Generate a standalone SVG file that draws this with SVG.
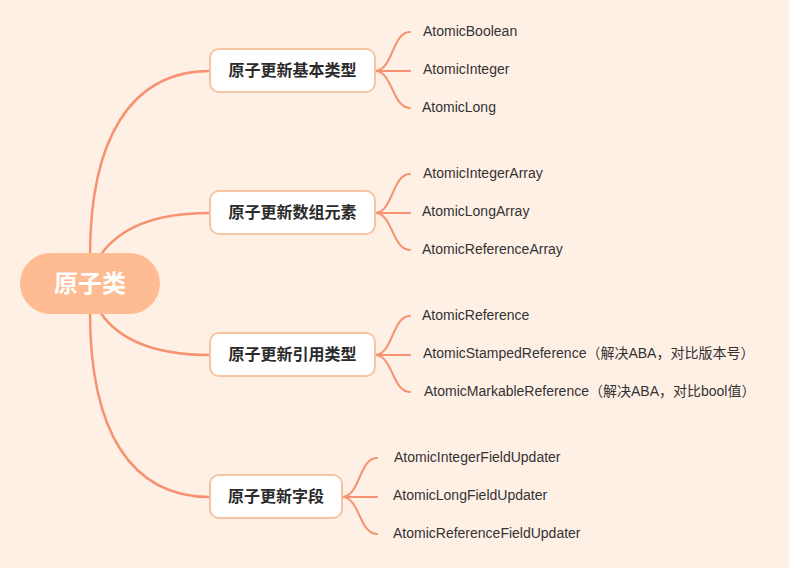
<svg xmlns="http://www.w3.org/2000/svg" width="789" height="568" viewBox="0 0 789 568">
<style>
.bg{fill:#FFF0E6}
.conn path{fill:none;stroke:#F6926F;stroke-width:2.5;stroke-linecap:round}
.conn path.leaf{stroke-width:2}
.root rect{fill:#FFBB92}
.root text{fill:#fff;font:bold 24px "Liberation Sans","Noto Sans CJK SC",sans-serif;text-anchor:middle;dominant-baseline:central}
.branch rect{fill:#fff;stroke:#F7C4A2;stroke-width:2}
.branch text{fill:#2b2b2b;font:bold 16px "Liberation Sans","Noto Sans CJK SC",sans-serif;text-anchor:middle;dominant-baseline:central}
.leaf text{fill:#333;font:14px "Liberation Sans","Noto Sans CJK SC",sans-serif;dominant-baseline:central}
</style>
<rect class="bg" width="789" height="568"/>
<g id="connectors" class="conn">
<path d="M90 256 C90 140 130 71 210 71"/>
<path d="M100 256 C120 226 160 213 210 213"/>
<path d="M100 312 C120 342 160 355 210 355"/>
<path d="M90 312 C90 430 130 497 210 497"/>
<path class="leaf" d="M375 71 C393 71 392 32 410 32"/>
<path class="leaf" d="M375 71 L410 71"/>
<path class="leaf" d="M375 71 C393 71 392 108 410 108"/>
<path class="leaf" d="M375 213 C393 213 392 174 410 174"/>
<path class="leaf" d="M375 213 L410 213"/>
<path class="leaf" d="M375 213 C393 213 392 250 410 250"/>
<path class="leaf" d="M375 355 C393 355 392 316 410 316"/>
<path class="leaf" d="M375 355 L410 355"/>
<path class="leaf" d="M375 355 C393 355 392 392 410 392"/>
<path class="leaf" d="M342 497 C360 497 359 458 377 458"/>
<path class="leaf" d="M342 497 L377 497"/>
<path class="leaf" d="M342 497 C360 497 359 534 377 534"/>
</g>
<g id="root" class="root"><rect x="20" y="253" width="140" height="61" rx="30.5"/><text x="90" y="283">原子类</text></g>
<g id="b1" class="branch"><rect x="210" y="49" width="165" height="43" rx="9"/><text x="292.5" y="70.5">原子更新基本类型</text></g>
<g id="b2" class="branch"><rect x="210" y="191" width="165" height="43" rx="9"/><text x="292.5" y="212.5">原子更新数组元素</text></g>
<g id="b3" class="branch"><rect x="210" y="333" width="165" height="43" rx="9"/><text x="292.5" y="354.5">原子更新引用类型</text></g>
<g id="b4" class="branch"><rect x="210" y="475" width="132" height="43" rx="9"/><text x="276" y="496.5">原子更新字段</text></g>
<g id="l1" class="leaf"><text x="423" y="31">AtomicBoolean</text></g>
<g id="l2" class="leaf"><text x="423" y="69">AtomicInteger</text></g>
<g id="l3" class="leaf"><text x="422" y="107">AtomicLong</text></g>
<g id="l4" class="leaf"><text x="423" y="173">AtomicIntegerArray</text></g>
<g id="l5" class="leaf"><text x="422" y="211">AtomicLongArray</text></g>
<g id="l6" class="leaf"><text x="422" y="249">AtomicReferenceArray</text></g>
<g id="l7" class="leaf"><text x="422" y="315">AtomicReference</text></g>
<g id="l8" class="leaf"><text x="423" y="353">AtomicStampedReference（解决ABA，对比版本号）</text></g>
<g id="l9" class="leaf"><text x="424" y="391">AtomicMarkableReference（解决ABA，对比bool值）</text></g>
<g id="l10" class="leaf"><text x="394" y="457">AtomicIntegerFieldUpdater</text></g>
<g id="l11" class="leaf"><text x="393" y="495">AtomicLongFieldUpdater</text></g>
<g id="l12" class="leaf"><text x="393" y="533">AtomicReferenceFieldUpdater</text></g>
</svg>
